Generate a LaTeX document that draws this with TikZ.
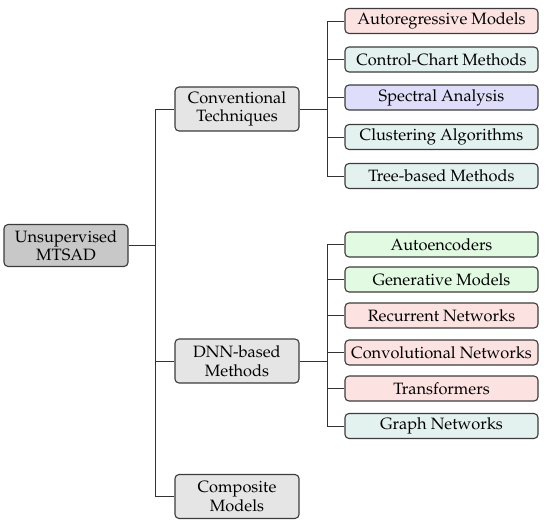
\documentclass[tikz,border=0pt]{standalone}
\usepackage[T1]{fontenc}
\usepackage{mathpazo}
\definecolor{rootfill}{RGB}{200,200,200}
\definecolor{midfill}{RGB}{229,229,229}
\definecolor{redfill}{RGB}{253,226,226}
\definecolor{tealfill}{RGB}{227,241,239}
\definecolor{bluefill}{RGB}{222,222,250}
\definecolor{greenfill}{RGB}{226,250,226}
\definecolor{edgegray}{RGB}{60,60,60}
\tikzset{
  box/.style={draw=edgegray, line width=1.1pt, rounded corners=4pt, align=center, inner sep=0pt,
    font=\fontsize{16.4}{18.5}\selectfont},
  rootbox/.style={box, fill=rootfill, minimum width=124pt, minimum height=42pt},
  midbox/.style={box, fill=midfill, minimum width=124pt, minimum height=44pt},
  leaf/.style={box, minimum width=193pt, minimum height=25pt},
  conn/.style={draw=black!80, line width=0.8pt}
}
\begin{document}
\begin{tikzpicture}[x=1pt,y=-1pt]
\useasboundingbox (0,0) rectangle (550,525);
\node[rootbox] (root) at (66,245.5) {Unsupervised\\MTSAD};
\node[midbox] (conv) at (237,109) {Conventional\\Techniques};
\node[midbox] (dnn) at (237,361) {DNN-based\\Methods};
\node[midbox] (comp) at (237,496.5) {Composite\\Models};

\node[leaf, fill=redfill]   (ar)   at (441.5,21)  {Autoregressive Models};
\node[leaf, fill=tealfill]  (cc)   at (441.5,59.5) {Control-Chart Methods};
\node[leaf, fill=bluefill]  (sa)   at (441.5,97.5) {Spectral Analysis};
\node[leaf, fill=tealfill]  (ca)   at (441.5,137) {Clustering Algorithms};
\node[leaf, fill=tealfill]  (tb)   at (441.5,176) {Tree-based Methods};

\node[leaf, fill=greenfill] (ae)   at (441.5,244.5) {Autoencoders};
\node[leaf, fill=greenfill] (gm)   at (441.5,279.5) {Generative Models};
\node[leaf, fill=redfill]   (rn)   at (441.5,315.5) {Recurrent Networks};
\node[leaf, fill=redfill]   (cn)   at (441.5,352.5) {Convolutional Networks};
\node[leaf, fill=redfill]   (tr)   at (441.5,388.5) {Transformers};
\node[leaf, fill=tealfill]  (gn)   at (441.5,426) {Graph Networks};

\coordinate (j0) at (155.5,245.5);
\coordinate (j1) at (327,109);
\coordinate (j2) at (327,361);

\draw[conn] (root.east) -- (j0);
\draw[conn] (j0) |- (conv.west);
\draw[conn] (j0) |- (dnn.west);
\draw[conn] (j0) |- (comp.west);

\draw[conn] (conv.east) -- (j1);
\foreach \n in {ar,cc,sa,ca,tb} \draw[conn] (j1) |- (\n.west);
\draw[conn] (dnn.east) -- (j2);
\foreach \n in {ae,gm,rn,cn,tr,gn} \draw[conn] (j2) |- (\n.west);
\end{tikzpicture}
\end{document}
